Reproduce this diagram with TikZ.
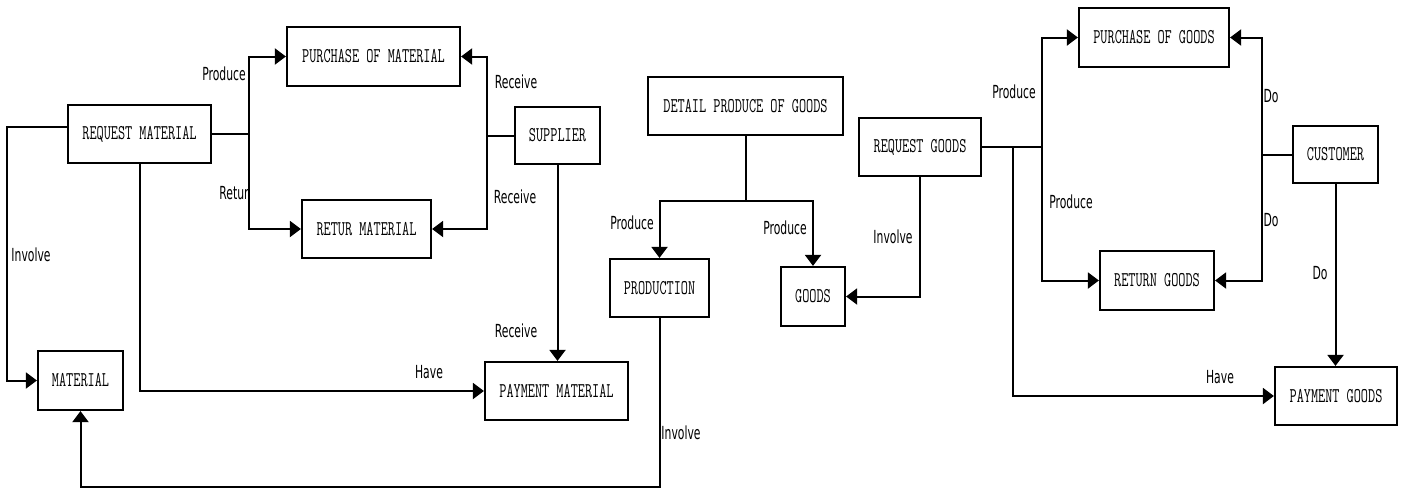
\documentclass[tikz,border=0pt]{standalone}
\usepackage{fontspec}
\usetikzlibrary{arrows.meta}
\newfontfamily\boxf[FakeStretch=0.66]{Latin Modern Mono}
\newfontfamily\labf[FakeStretch=0.6]{DejaVu Sans}
\begin{document}
\begin{tikzpicture}[x=1pt,y=-1pt,
  ent/.style={draw,line width=2.2pt,inner sep=0pt,font=\boxf\fontsize{21}{24}\selectfont},
  lab/.style={inner sep=0pt,font=\labf\fontsize{18}{20}\selectfont},
  conn/.style={line width=2pt},
  >={Triangle[length=11pt,width=16pt]}]
\useasboundingbox (0,0) rectangle (1406,488);
% entities
\node[ent,minimum width=173pt,minimum height=59pt] (pom) at (373.5,56.5) {PURCHASE OF MATERIAL};
\node[ent,minimum width=143pt,minimum height=58pt] (rm) at (139.5,134) {REQUEST MATERIAL};
\node[ent,minimum width=129pt,minimum height=58pt] (retm) at (366.5,229) {RETUR MATERIAL};
\node[ent,minimum width=85pt,minimum height=59pt] (mat) at (80.5,380.5) {MATERIAL};
\node[ent,minimum width=85pt,minimum height=57pt] (sup) at (557.5,135.5) {SUPPLIER};
\node[ent,minimum width=143pt,minimum height=58pt] (paym) at (556.5,391) {PAYMENT MATERIAL};
\node[ent,minimum width=195pt,minimum height=58pt] (dpg) at (745.5,106) {DETAIL PRODUCE OF GOODS};
\node[ent,minimum width=99pt,minimum height=58pt] (prod) at (659.5,288) {PRODUCTION};
\node[ent,minimum width=64pt,minimum height=59pt] (goods) at (813,296.5) {GOODS};
\node[ent,minimum width=122pt,minimum height=58pt] (rg) at (920,147) {REQUEST GOODS};
\node[ent,minimum width=150pt,minimum height=59pt] (pog) at (1154,37.5) {PURCHASE OF GOODS};
\node[ent,minimum width=85pt,minimum height=57pt] (cust) at (1335.5,154.5) {CUSTOMER};
\node[ent,minimum width=114pt,minimum height=59pt] (retg) at (1157,280.5) {RETURN GOODS};
\node[ent,minimum width=122pt,minimum height=58pt] (payg) at (1336,396) {PAYMENT GOODS};
% junction coordinates
\coordinate (l1) at (7,127);
\coordinate (j1) at (249,134);
\coordinate (j2) at (487,135.5);
\coordinate (j3) at (745.5,201);
\coordinate (b1) at (659.5,487);
\coordinate (j4) at (1042,147);
\coordinate (j5) at (1013,147);
\coordinate (j6) at (1262,154.5);
% left part
\draw[conn,->] (rm.west |- l1) -- (l1) |- (mat.west);
\draw[conn,->] (rm.south) |- (paym.west);
\draw[conn] (rm.east) -- (j1);
\draw[conn,->] (j1) |- (pom.west);
\draw[conn,->] (j1) |- (retm.west);
\draw[conn] (sup.west) -- (j2);
\draw[conn,->] (j2) |- (pom.east);
\draw[conn,->] (j2) |- (retm.east);
\draw[conn,->] (sup.south) -- (sup.south |- paym.north);
% middle
\draw[conn] (dpg.south) -- (j3);
\draw[conn,->] (j3) -| (prod.north);
\draw[conn,->] (j3) -| (goods.north);
\draw[conn,->] (prod.south) -- (b1) -| (mat.south);
\draw[conn,->] (rg.south) |- (goods.east);
% right part
\draw[conn] (rg.east) -- (j4);
\draw[conn,->] (j4) |- (pog.west);
\draw[conn,->] (j4) |- (retg.west);
\draw[conn,->] (j5) |- (payg.west);
\draw[conn] (cust.west) -- (j6);
\draw[conn,->] (j6) |- (pog.east);
\draw[conn,->] (j6) |- (retg.east);
\draw[conn,->] (cust.south) -- (cust.south |- payg.north);
% labels
\node[lab] (t1) at (31,255) {Involve};
\node[lab] (t2) at (429,372) {Have};
\node[lab] (t3) at (224,74) {Produce};
\node[lab] (t4) at (234,193) {Retur};
\node[lab] (t5) at (516,82) {Receive};
\node[lab] (t6) at (515,197) {Receive};
\node[lab] (t7) at (516,331) {Receive};
\node[lab] (t8) at (632,223) {Produce};
\node[lab] (t9) at (785,228) {Produce};
\node[lab] (t10) at (681,433) {Involve};
\node[lab] (t11) at (893,237) {Involve};
\node[lab] (t12) at (1014,92) {Produce};
\node[lab] (t13) at (1071,202) {Produce};
\node[lab] (t14) at (1271,96) {Do};
\node[lab] (t15) at (1271,220) {Do};
\node[lab] (t16) at (1320,273) {Do};
\node[lab] (t17) at (1220,377) {Have};
\end{tikzpicture}
\end{document}
